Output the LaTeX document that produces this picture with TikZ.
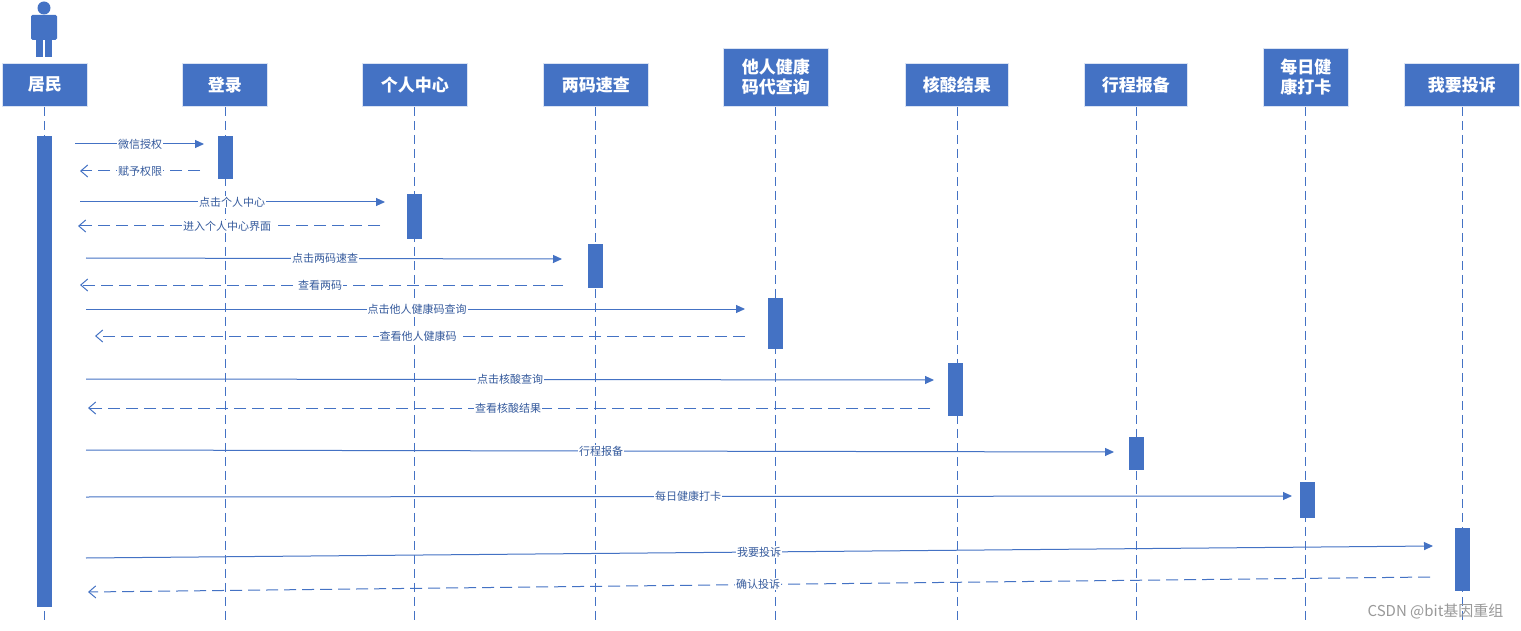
\documentclass[tikz,border=0pt]{standalone}
\usepackage{fontspec}
\setmainfont{Noto Sans CJK SC}
\newfontfamily\cjkb[BoldFont=* Bold]{Noto Sans CJK SC}
\usetikzlibrary{arrows.meta}
\definecolor{bl}{HTML}{4472C4}
\begin{document}
\begin{tikzpicture}[x=1pt,y=-1pt,
  hdr/.style={fill=bl,draw=white!80!bl,line width=0.8pt,text=white,font=\fontsize{17}{20}\selectfont\bfseries,align=center,inner sep=0pt},
  life/.style={draw=bl,dashed,dash pattern=on 9pt off 5pt,line width=1pt},
  bar/.style={fill=bl,draw=bl},
  msg/.style={draw=bl,line width=1pt,-{Triangle[length=9pt,width=8pt]}},
  ret/.style={draw=bl,line width=1pt,dash pattern=on 12pt off 6pt,-{Straight Barb[length=7pt,width=12pt]}},
  lbl/.style={fill=white,text=bl!80!black,font=\fontsize{11}{12}\selectfont,inner sep=1pt}]
\useasboundingbox[fill=white] (0,0) rectangle (1521,631);
% headers
\foreach \n/\a/\b/\c/\t in {h1/2/87/63/居民,h2/182/267/63/登录,h3/362/467/63/个人中心,h4/543/648/63/两码速查,h5/723/828/48/{他人健康\\码代查询},h6/905/1008/63/核酸结果,h7/1084/1187/63/行程报备,h8/1263/1348/48/{每日健\\康打卡},h9/1404/1519/63/我要投诉}{
  \node[hdr,minimum width={(\b-\a)*1pt},minimum height={(106-\c)*1pt},anchor=north west] (\n) at (\a,\c) {\t};
}
% lifelines
\foreach \n/\x in {h1/44,h2/225,h3/414,h4/595,h5/775,h6/957,h7/1136,h8/1305,h9/1462}{
  \coordinate (\n e) at (\x,620);
  \draw[life] (\n.south -| \n e) -- (\n e);
}
% person icon
\fill[bl] (44,8) circle (6.5);
\fill[bl,rounded corners=1.5pt] (31,15) rectangle (57,40);
\fill[bl] (36,38) rectangle (43,57);
\fill[bl] (45,38) rectangle (52,57);
% activation bars
\foreach \n/\x/\a/\b in {a1/44/136/606,a2/225/136/178,a3/414/194/238,a4/595/244/287,a5/775/298/348,a6/955/363/415,a7/1136/437/469,a8/1307/482/517,a9/1462/528/590}{
  \node[bar,minimum width=14pt,minimum height={(\b-\a)*1pt},inner sep=0pt,anchor=north] (\n) at (\x,\a) {};
}
% messages
\def\M#1#2#3#4#5#6#7{\coordinate (s#1) at #2; \coordinate (t#1) at #3;
  \draw[#4] (s#1) -- (t#1); \node[lbl] at #5 {#6};}
\M{1}{(75,144)}{(204,144)}{msg}{(140,144)}{微信授权}{}
\M{2}{(200,171)}{(80,171)}{ret}{(140,171)}{赋予权限}{}
\M{3}{(80,202)}{(385,202)}{msg}{(232,202)}{点击个人中心}{}
\M{4}{(380,226)}{(78,226)}{ret}{(227,226)}{进入个人中心界面}{}
\M{5}{(86,258)}{(562,259)}{msg}{(325,258)}{点击两码速查}{}
\M{6}{(563,285)}{(80,285)}{ret}{(320,285)}{查看两码}{}
\M{7}{(86,309)}{(745,309)}{msg}{(417,309)}{点击他人健康码查询}{}
\M{8}{(745,336)}{(95,336)}{ret}{(418,336)}{查看他人健康码}{}
\M{9}{(86,379)}{(934,380)}{msg}{(510,379)}{点击核酸查询}{}
\M{10}{(930,408)}{(88,408)}{ret}{(508,408)}{查看核酸结果}{}
\M{11}{(86,450)}{(1114,452)}{msg}{(601,451)}{行程报备}{}
\M{12}{(86,497)}{(1292,496)}{msg}{(688,496)}{每日健康打卡}{}
\M{13}{(86,558)}{(1433,546)}{msg}{(759,552)}{我要投诉}{}
\M{14}{(1430,577)}{(88,592)}{ret}{(758,584)}{确认投诉}{}
\node[text=gray!80,font=\fontsize{15}{16}\selectfont,anchor=east] at (1507,611) {CSDN @bit基因重组};
\end{tikzpicture}
\end{document}
